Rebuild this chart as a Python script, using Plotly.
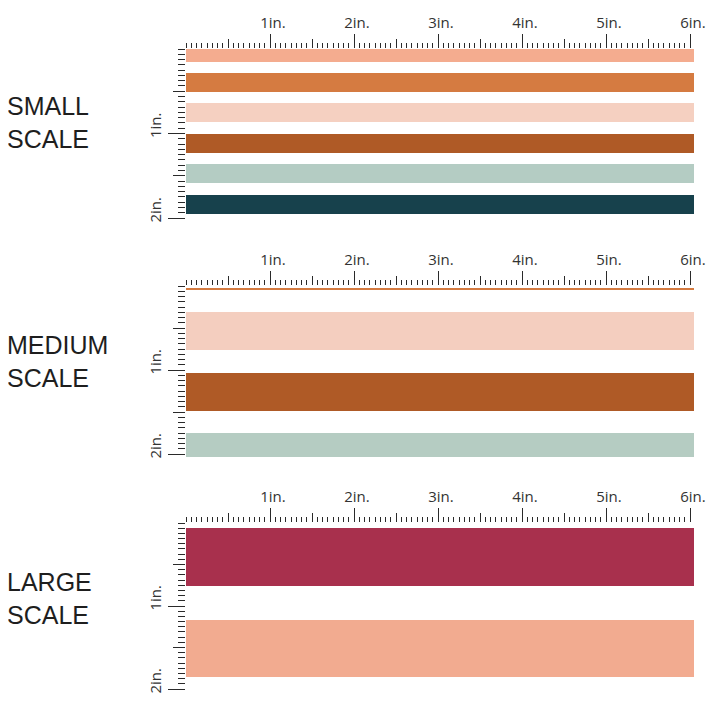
import plotly.graph_objects as go

# ---------------- data (inches) ----------------
panel_names = ["SMALL<br>SCALE", "MEDIUM<br>SCALE", "LARGE<br>SCALE"]

small_starts = [0.0, 0.284, 0.639, 1.006, 1.361, 1.728]
small_ends = [0.155, 0.509, 0.864, 1.231, 1.586, 1.953]
small_colors = ["#F4AC8F", "#D57B41", "#F5D0C1", "#AF5A26", "#B4CCC3", "#17414C"]

medium_starts = [0.018, 0.31, 1.036, 1.75]
medium_ends = [0.048, 0.762, 1.488, 2.036]
medium_colors = ["#D57B41", "#F4CEBF", "#AF5A26", "#B5CCC2"]

large_starts = [0.06, 1.169]
large_ends = [0.759, 1.855]
large_colors = ["#A8304D", "#F2AB90"]

stripe_length = 6.05
x_inch_ticks = [0, 1, 2, 3, 4, 5, 6]
x_inch_labels = ["", "1in.", "2in.", "3in.", "4in.", "5in.", "6in."]
y_inch_ticks = [0, 1, 2]
y_inch_labels = ["", "1in.", "2in."]

# ---------------- layout geometry (pixels, page coordinates) ----------------
W = H = 720
PAGE_OFFSET = 8  # default body margin of the html page
x_origin_px = 186
x_px_per_in = 84.0
x_range_max = 6.1
panel_origin_px = [49, 286, 523]
panel_px_per_in = [84.5, 84.0, 83.0]
panel_y_max = [2.0, 2.05, 2.0]
label_center_px = [123, 361, 598]
label_left_px = 6


def px_x(p):
    return (p - PAGE_OFFSET) / W


def px_y(p):
    return 1 - (p - PAGE_OFFSET) / H


panels = [
    (small_starts, small_ends, small_colors),
    (medium_starts, medium_ends, medium_colors),
    (large_starts, large_ends, large_colors),
]

TICK_COLOR = "#2a2a2a"
LABEL_FONT = dict(family="Open Sans", size=15, color="#333333")

fig = go.Figure()
layout = dict(
    width=W, height=H, margin=dict(l=0, r=0, t=0, b=0, autoexpand=False),
    paper_bgcolor="white", plot_bgcolor="white", showlegend=False,
    annotations=[],
)

x_dom = [px_x(x_origin_px), px_x(x_origin_px + x_range_max * x_px_per_in)]
y_axis_pos = px_x(x_origin_px - 1.5)

sixteenths_x = [k / 16 for k in range(0, 6 * 16 + 1)]
halves_x = [k + 0.5 for k in range(6)]

for i, (starts, ends, colors) in enumerate(panels):
    n = i + 1
    m = i + 4
    org = panel_origin_px[i]
    s = panel_px_per_in[i]
    ymax = panel_y_max[i]
    y_dom = [px_y(org + ymax * s), px_y(org)]

    xa, ya = ("x" if n == 1 else f"x{n}"), ("y" if n == 1 else f"y{n}")
    xb, yb = f"x{m}", f"y{m}"
    xa_key = "xaxis" if n == 1 else f"xaxis{n}"
    ya_key = "yaxis" if n == 1 else f"yaxis{n}"

    centers = [(a + b) / 2 for a, b in zip(starts, ends)]
    widths = [b - a for a, b in zip(starts, ends)]
    fig.add_trace(go.Bar(
        orientation="h", y=centers, x=[stripe_length] * len(centers), base=0,
        width=widths, marker=dict(color=colors, line=dict(width=0)),
        xaxis=xa, yaxis=ya, hoverinfo="skip",
    ))
    fig.add_trace(go.Scatter(x=[None], y=[None], xaxis=xb, yaxis=yb,
                             showlegend=False, hoverinfo="skip"))

    sixteenths_y = [k / 16 for k in range(0, int(2 * 16) + 1)]
    halves_y = [0.5, 1.5]

    common = dict(showgrid=False, zeroline=False, showline=False,
                  fixedrange=True, automargin=False)
    layout[xa_key] = dict(
        **common, domain=x_dom, range=[0, x_range_max], anchor=ya, side="top",
        tickmode="array", tickvals=x_inch_ticks, ticktext=x_inch_labels,
        ticks="outside", ticklen=14, tickwidth=1.3, tickcolor=TICK_COLOR,
        tickfont=LABEL_FONT, ticklabelshift=3, ticklabelstandoff=0,
        minor=dict(tickmode="array", tickvals=sixteenths_x, ticks="outside",
                   ticklen=5, tickwidth=1.1, tickcolor=TICK_COLOR, showgrid=False),
    )
    layout[f"xaxis{m}"] = dict(
        **common, domain=x_dom, range=[0, x_range_max], anchor=yb, side="top",
        overlaying=xa, tickmode="array", tickvals=halves_x,
        ticktext=[""] * len(halves_x), ticks="outside", ticklen=9,
        tickwidth=1.2, tickcolor=TICK_COLOR,
    )
    layout[ya_key] = dict(
        **common, domain=y_dom, range=[ymax, 0], anchor="free",
        position=y_axis_pos, side="left",
        tickmode="array", tickvals=y_inch_ticks, ticktext=y_inch_labels,
        ticks="outside", ticklen=17, tickwidth=1.3, tickcolor=TICK_COLOR,
        tickfont=LABEL_FONT, tickangle=-90, ticklabelshift=6,
        ticklabelstandoff=1,
        minor=dict(tickmode="array", tickvals=sixteenths_y, ticks="outside",
                   ticklen=7, tickwidth=1.1, tickcolor=TICK_COLOR, showgrid=False),
    )
    layout[f"yaxis{m}"] = dict(
        **common, domain=y_dom, range=[ymax, 0], anchor="free",
        position=y_axis_pos, side="left", overlaying=ya,
        tickmode="array", tickvals=halves_y, ticktext=["", ""],
        ticks="outside", ticklen=12, tickwidth=1.2, tickcolor=TICK_COLOR,
    )

    layout["annotations"].append(dict(
        text=panel_names[i], xref="paper", yref="paper",
        x=px_x(label_left_px), y=px_y(label_center_px[i]),
        xanchor="left", yanchor="middle", borderpad=0,
        align="left", showarrow=False,
        font=dict(family="Liberation Sans", size=25, color="#1e1e1e"),
    ))

fig.update_layout(**layout)
fig.update_layout(bargap=0)
fig.write_html("out.html")
